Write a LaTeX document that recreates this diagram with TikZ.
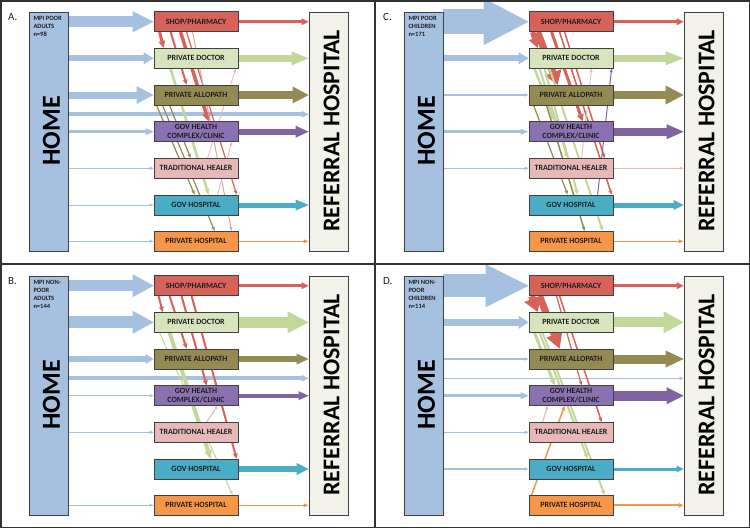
\documentclass[tikz,border=0pt]{standalone}
\usepackage{fontspec}
\setmainfont{Carlito}
\usetikzlibrary{arrows.meta}
\pgfdeclarelayer{bg}
\pgfsetlayers{bg,main}
\definecolor{cHome}{RGB}{166,192,224}
\definecolor{cArr}{RGB}{166,192,224}
\definecolor{cRef}{RGB}{242,241,234}
\definecolor{cShop}{RGB}{214,98,90}
\definecolor{cRed}{RGB}{214,98,90}
\definecolor{cLRed}{RGB}{232,160,154}
\definecolor{cDoc}{RGB}{215,228,189}
\definecolor{cGreen}{RGB}{196,215,155}
\definecolor{cOlive}{RGB}{148,138,84}
\definecolor{cPurple}{RGB}{140,113,178}
\definecolor{cPArr}{RGB}{128,100,162}
\definecolor{cPink}{RGB}{230,185,184}
\definecolor{cCyan}{RGB}{75,172,198}
\definecolor{cOrange}{RGB}{247,150,70}
\definecolor{cBorder}{RGB}{64,64,64}
\definecolor{cText}{RGB}{30,30,30}
\definecolor{cFrame}{RGB}{50,50,50}
\tikzset{
  mbox/.style={draw=cBorder, line width=0.8pt, minimum width=84pt, minimum height=20pt, inner sep=0pt, align=center, text=cText, font=\fontsize{8}{9.3}\selectfont\bfseries},
  tallbox/.style={draw=cBorder, line width=0.8pt, minimum width=39pt, minimum height=239pt, inner sep=0pt},
  bigtxt/.style={rotate=90, inner sep=0pt, text=black, font=\fontsize{#1}{#1}\selectfont\bfseries},
  ba/.style n args={4}{draw=#1, line width=#2pt, -{Triangle[width=#3pt,length=#4pt,line width=0pt]}},
}
\newcommand\panel[5]{%
\begin{scope}[shift={(#2,#3)}]
 \node[tallbox, fill=cHome] (#1home) at (48.5,131.5) {};
 \node[bigtxt=26] (#1homet) at (51.5,131) {HOME};
 \node[tallbox, fill=cRef] (#1ref) at (328.5,131.5) {};
 \node[bigtxt=24] (#1reft) at (331.5,131) {REFERRAL HOSPITAL};
 \node[anchor=base west, inner sep=0pt, text=cText, font=\fontsize{11}{11}\selectfont] (#1lab) at (8,20.5) {#4};
 \node[anchor=north west, inner sep=0pt, align=left, text=cText, font=\fontsize{6.5}{7.7}\selectfont\bfseries] (#1mpi) at (33.3,16.5) {#5};
 \node[mbox, fill=cShop] (#1shop) at (196,21.7) {SHOP/PHARMACY};
 \node[mbox, fill=cDoc] (#1doc) at (196,58.3) {PRIVATE DOCTOR};
 \node[mbox, fill=cOlive] (#1allo) at (196,95) {PRIVATE ALLOPATH};
 \node[mbox, fill=cPurple] (#1gh) at (196,131.7) {GOV HEALTH\\COMPLEX/CLINIC};
 \node[mbox, fill=cPink] (#1trad) at (196,168.3) {TRADITIONAL HEALER};
 \node[mbox, fill=cCyan] (#1gvh) at (196,205) {GOV HOSPITAL};
 \node[mbox, fill=cOrange] (#1pvh) at (196,241.3) {PRIVATE HOSPITAL};
 \coordinate (#1mid) at (200,114.3);
\end{scope}}
\newcommand\hin[5]{\draw[ba={cArr}{#3}{#4}{#5}] (#1home.east |- #1#2.west) -- (#1#2.west);}
\newcommand\homeref[4]{\draw[ba={cArr}{#2}{#3}{#4}] (#1home.east |- #1mid) -- (#1ref.west |- #1mid);}
\newcommand\hout[6]{\draw[ba={#3}{#4}{#5}{#6}] (#1#2.east) -- (#1ref.west |- #1#2.east);}
\newcommand\dnx[9]{\draw[ba={#6}{#7}{#8}{#9}] ([xshift=#3pt]#1#2.south west) -- ([xshift=#5pt]#1#4.north west);}
\newcommand\upx[9]{\draw[ba={#6}{#7}{#8}{#9}] ([xshift=#3pt]#1#2.north west) -- ([xshift=#5pt]#1#4.south west);}
\begin{document}
\begin{tikzpicture}[x=1pt,y=-1pt]
\useasboundingbox (0,0) rectangle (750,528);
\panel{A}{0}{0}{A.}{MPI POOR\\ADULTS\\n=98}
\panel{C}{375}{0}{C.}{MPI POOR\\CHILDREN\\n=171}
\panel{B}{0}{264}{B.}{MPI NON-\\POOR\\ADULTS\\n=144}
\panel{D}{375}{264}{D.}{MPI NON-\\POOR\\CHILDREN\\n=114}
\begin{pgfonlayer}{bg}
\fill[white] (0,0) rectangle (750,528);
% ---- A
\hin{A}{shop}{11}{21}{21}
\hin{A}{doc}{6}{12}{10}
\hin{A}{allo}{7}{18}{17}
\hin{A}{gh}{3.5}{7}{8}
\hin{A}{trad}{1.3}{3.5}{4}
\hin{A}{gvh}{1}{3}{4}
\hin{A}{pvh}{1}{3}{4}
\homeref{A}{4}{7}{7}
\hout{A}{shop}{cRed}{3}{7}{7}
\hout{A}{doc}{cGreen}{7}{14}{17}
\hout{A}{allo}{cOlive}{8}{17}{16}
\hout{A}{gh}{cPArr}{6}{12}{13}
\hout{A}{gvh}{cCyan}{5}{11}{13}
\hout{A}{pvh}{cOrange}{1.5}{4}{5}
\dnx{A}{shop}{6}{doc}{10}{cRed}{3}{7}{7}
\dnx{A}{shop}{17}{allo}{33}{cRed}{2}{5}{5}
\dnx{A}{shop}{27}{gh}{55}{cRed}{3.5}{8}{8}
\dnx{A}{shop}{33}{gvh}{83}{cRed}{1.2}{3.5}{4}
\dnx{A}{shop}{39}{pvh}{78}{cLRed}{1}{3}{4}
\dnx{A}{doc}{17}{gvh}{55}{cGreen}{2.5}{5}{6}
\dnx{A}{allo}{3}{gvh}{41}{cOlive}{1.2}{3.5}{4}
\dnx{A}{allo}{9}{pvh}{61}{cOlive}{1.2}{3.5}{4}
\dnx{A}{allo}{16}{trad}{37}{cOlive}{1.2}{3.5}{4}
\upx{A}{trad}{54}{doc}{82}{cPink}{0.8}{3}{3.5}
\upx{A}{gvh}{64}{gh}{78}{cPink}{0.8}{3}{3.5}
% ---- C
\hin{C}{shop}{25}{47}{45}
\hin{C}{doc}{6}{12}{10}
\hin{C}{allo}{1.5}{3.5}{4}
\hin{C}{gh}{2.5}{6}{8}
\hin{C}{trad}{1.2}{3.5}{4}
\hout{C}{shop}{cRed}{3}{7}{7}
\hout{C}{doc}{cGreen}{7}{14}{18}
\hout{C}{allo}{cOlive}{8}{19}{18}
\hout{C}{gh}{cPArr}{8}{15}{17}
\hout{C}{trad}{cPink}{1}{3}{4}
\hout{C}{gvh}{cCyan}{5}{10}{10}
\hout{C}{pvh}{cOrange}{1.5}{4}{5}
\dnx{C}{shop}{4}{doc}{9}{cRed}{5}{12}{10}
\dnx{C}{shop}{9}{allo}{29}{cRed}{7}{18}{13}
\dnx{C}{shop}{23}{gh}{54}{cRed}{3}{7}{7}
\dnx{C}{shop}{31}{gvh}{83}{cRed}{1.5}{4}{4}
\dnx{C}{shop}{36}{trad}{76}{cRed}{1.5}{4}{4}
\dnx{C}{doc}{6}{gh}{26}{cGreen}{2.5}{5}{6}
\dnx{C}{doc}{11}{trad}{39}{cGreen}{2}{4.5}{5}
\dnx{C}{doc}{16}{gvh}{49}{cGreen}{2}{4.5}{5}
\dnx{C}{doc}{21}{pvh}{74}{cGreen}{2}{4.5}{5}
\dnx{C}{allo}{5}{gvh}{39}{cOlive}{1.2}{3.5}{4}
\dnx{C}{allo}{18}{pvh}{56}{cOlive}{1.5}{3.5}{4}
\upx{C}{gvh}{69}{doc}{83}{cPArr}{1}{3}{3.5}
\upx{C}{trad}{53}{doc}{63}{cPink}{0.8}{3}{3.5}
% ---- B
\hin{B}{shop}{11}{23}{21}
\hin{B}{doc}{12}{23}{21}
\hin{B}{allo}{5.5}{10}{8}
\hin{B}{gh}{1.5}{3.5}{4}
\hin{B}{trad}{1.2}{3.5}{4}
\hin{B}{pvh}{1}{3}{4}
\homeref{B}{4}{7}{7}
\hout{B}{shop}{cRed}{3}{7}{7}
\hout{B}{doc}{cGreen}{11}{22}{21}
\hout{B}{allo}{cOlive}{6}{11}{12}
\hout{B}{gh}{cPArr}{4}{9}{10}
\hout{B}{gvh}{cCyan}{6.5}{12}{12}
\hout{B}{pvh}{cOrange}{1.5}{4}{5}
\dnx{B}{shop}{5}{doc}{9}{cRed}{2}{5}{5}
\dnx{B}{shop}{16}{allo}{33}{cRed}{2}{5}{5}
\dnx{B}{shop}{28}{gh}{53}{cRed}{2}{5}{5}
\dnx{B}{shop}{38}{gvh}{83}{cRed}{2}{5}{5}
\dnx{B}{doc}{16}{gvh}{57}{cGreen}{4}{8}{8}
\dnx{B}{doc}{6}{pvh}{79}{cGreen}{1}{3}{4}
\upx{B}{trad}{53}{gh}{64}{cPink}{1}{3}{3}
% ---- D
\hin{D}{shop}{23}{43}{43}
\hin{D}{doc}{7}{13}{10}
\hin{D}{allo}{1.5}{3.5}{4}
\hin{D}{gh}{3}{7}{8}
\hin{D}{trad}{1.2}{3.5}{4}
\hin{D}{gvh}{1.2}{3.5}{4}
\homeref{D}{1.5}{3.5}{4}
\hout{D}{shop}{cRed}{3}{7}{7}
\hout{D}{doc}{cGreen}{10}{22}{20}
\hout{D}{allo}{cOlive}{9}{17}{18}
\hout{D}{gh}{cPArr}{10}{17}{17}
\hout{D}{gvh}{cCyan}{3}{7}{7}
\hout{D}{pvh}{cOrange}{2}{5}{5}
\dnx{D}{shop}{3}{doc}{9}{cRed}{7}{18}{14}
\dnx{D}{shop}{11}{allo}{31}{cRed}{7}{17}{15}
\dnx{D}{shop}{28}{gh}{53}{cRed}{1.2}{3.5}{4}
\dnx{D}{shop}{31}{trad}{73}{cRed}{1.5}{4}{4}
\dnx{D}{doc}{6}{gh}{26}{cGreen}{3}{6}{6}
\dnx{D}{doc}{11}{gvh}{59}{cGreen}{2}{4.5}{5}
\dnx{D}{doc}{14}{pvh}{76}{cGreen}{2}{4.5}{5}
\upx{D}{pvh}{3}{gh}{36}{cOrange}{1.5}{4}{4}
\upx{D}{trad}{14}{gh}{19}{cPink}{1}{3}{3}
\end{pgfonlayer}
\draw[cFrame, line width=1.5pt] (0.75,0.75) rectangle (749.25,527.25);
\draw[cFrame, line width=1.5pt] (375,0) -- (375,528);
\draw[cFrame, line width=1.5pt] (0,264) -- (750,264);
\end{tikzpicture}
\end{document}
